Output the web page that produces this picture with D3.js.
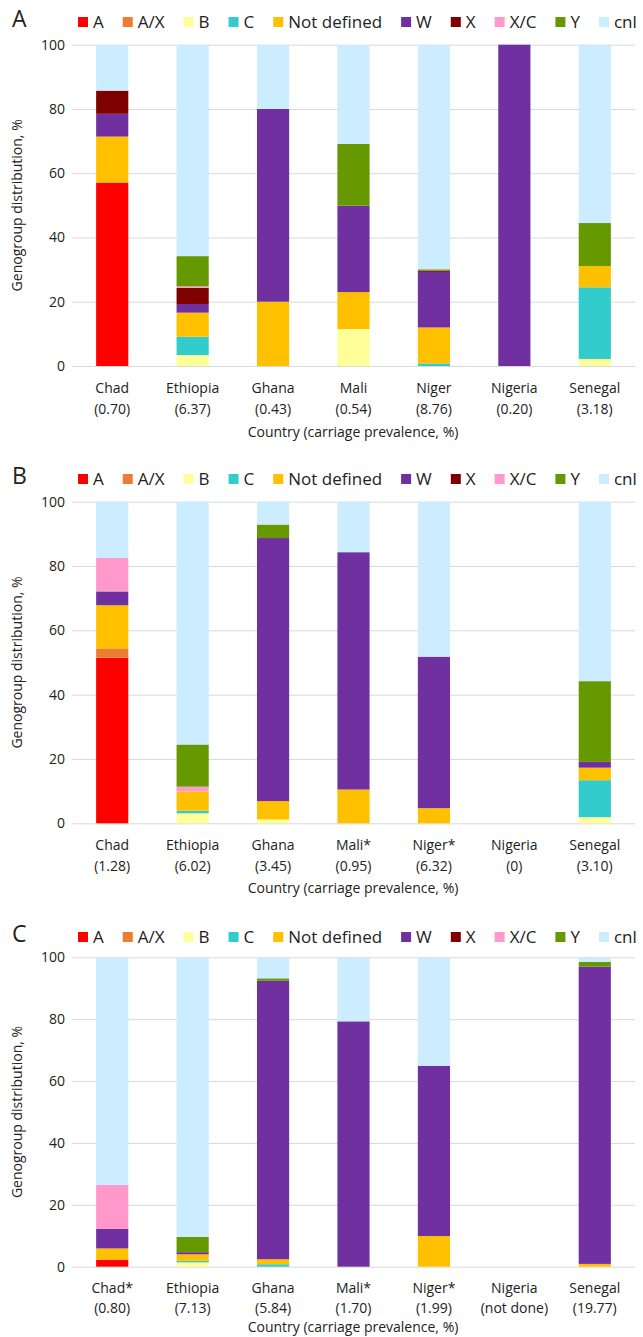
<!DOCTYPE html>
<html><head><meta charset="utf-8">
<script src="https://cdn.jsdelivr.net/npm/d3@7"></script>
<style>body{margin:0;background:#fff}svg{display:block}text{font-family:"Open Sans",sans-serif;fill:#222}</style>
</head><body>
<svg id="chart" width="643" height="1337"></svg>
<script>
const genogroups = ["A","A/X","B","C","Not defined","W","X","X/C","Y","cnl"];
const colors = ["#FF0000","#ED7D31","#FFFF99","#33CCCC","#FFC000","#7030A0","#7F0000","#FF99CC","#669900","#CCECFF"];
const yTicks = [0,20,40,60,80,100];

const namesA = ["Chad","Ethiopia","Ghana","Mali","Niger","Nigeria","Senegal"];
const prevA  = ["(0.70)","(6.37)","(0.43)","(0.54)","(8.76)","(0.20)","(3.18)"];
const namesB = ["Chad","Ethiopia","Ghana","Mali*","Niger*","Nigeria","Senegal"];
const prevB  = ["(1.28)","(6.02)","(3.45)","(0.95)","(6.32)","(0)","(3.10)"];
const namesC = ["Chad*","Ethiopia","Ghana","Mali*","Niger*","Nigeria","Senegal"];
const prevC  = ["(0.80)","(7.13)","(5.84)","(1.70)","(1.99)","(not done)","(19.77)"];

// values per genogroup, countries in order Chad..Senegal
const valuesA = {
  "A":[57.1,0,0,0,0,0,0], "A/X":[0,0,0,0,0,0,0], "B":[0,3.4,0,11.5,0,0,2.2],
  "C":[0,5.7,0,0,0.8,0,22.3], "Not defined":[14.3,7.5,20,11.5,11.2,0,6.6],
  "W":[7.1,2.7,60,26.9,17.3,100,0], "X":[7.2,5.0,0,0,0.4,0,0], "X/C":[0,0.5,0,0,0,0,0],
  "Y":[0,9.4,0,19.2,0.4,0,13.4], "cnl":[14.3,65.8,20,30.8,69.9,0,55.5]
};
const valuesB = {
  "A":[51.5,0,0,0,0,0,0], "A/X":[2.9,0,0,0,0,0,0], "B":[0,3.1,1.2,0,0,0,1.9],
  "C":[0,0.8,0,0,0,0,11.5], "Not defined":[13.4,6.0,5.7,10.5,4.7,0,3.9],
  "W":[4.3,0,81.8,73.8,47.1,0,1.8], "X":[0,0,0,0,0,0,0], "X/C":[10.4,1.5,0,0,0,0,0],
  "Y":[0,13.1,4.2,0,0,0,25.1], "cnl":[17.5,75.5,7.1,15.7,48.2,0,55.8]
};
const valuesC = {
  "A":[2.2,0,0,0,0,0,0], "A/X":[0,0,0,0,0,0,0], "B":[0,1.4,0,0,0,0,0],
  "C":[0,0.5,0.8,0,0,0,0], "Not defined":[3.7,2.1,1.6,0,9.9,0,0.9],
  "W":[6.3,0.7,90.0,79.3,55.0,0,96.1], "X":[0,0,0,0,0,0,0], "X/C":[14.2,0,0,0,0,0,0],
  "Y":[0,4.9,0.8,0,0,0,1.5], "cnl":[73.6,90.4,6.8,20.7,35.1,0,1.5]
};

const svg = d3.select("#chart");
const color = d3.scaleOrdinal().domain(genogroups).range(colors);

function panel(letter, values, names, prevs, top, bottom, legendY, lab) {
  const g = svg.append("g");
  const idx = d3.range(names.length);
  const x = d3.scaleBand().domain(idx).range([72,635]).paddingInner(0.6).paddingOuter(0.3);
  const y = d3.scaleLinear().domain([0,100]).range([bottom, top]);

  const ax = g.append("g").attr("transform","translate(72,0)")
    .call(d3.axisLeft(y).tickValues(yTicks).tickSize(-563).tickPadding(7));
  ax.select(".domain").remove();
  ax.selectAll(".tick line").attr("stroke","#d9d9d9");
  ax.selectAll(".tick text").style("font-size","14px").attr("fill","#222");

  const rows = idx.map(i => { const r = {i}; genogroups.forEach(k => r[k] = values[k][i]); return r; });
  const stack = d3.stack().keys(genogroups)(rows);
  g.append("g").selectAll("g").data(stack).join("g").attr("fill", d => color(d.key))
    .selectAll("rect").data(d => d.filter(s => s[1]-s[0] > 0)).join("rect")
    .attr("x", d => x(d.data.i)).attr("width", x.bandwidth())
    .attr("y", d => y(d[1])).attr("height", d => y(d[0]) - y(d[1]));

  idx.forEach(i => {
    const cx = x(i) + x.bandwidth()/2;
    g.append("text").attr("x",cx).attr("y",bottom+lab[0]).attr("text-anchor","middle").style("font-size","14px").text(names[i]);
    g.append("text").attr("x",cx).attr("y",bottom+lab[1]).attr("text-anchor","middle").style("font-size","14px").text(prevs[i]);
  });
  g.append("text").attr("x",353).attr("y",bottom+lab[2]).attr("text-anchor","middle").style("font-size","14px")
    .text("Country (carriage prevalence, %)");
  g.append("text").attr("transform",`translate(22,${(top+bottom)/2}) rotate(-90)`).attr("text-anchor","middle")
    .style("font-size","14px").text("Genogroup distribution, %");

  g.append("text").attr("x",12).attr("y",legendY+6).style("font-size","23px").text(letter);

  const lg = g.append("g");
  let lx = 78;
  genogroups.forEach(k => {
    lg.append("rect").attr("x",lx).attr("y",legendY-4).attr("width",10).attr("height",10).attr("fill",color(k));
    const t = lg.append("text").attr("x",lx+15).attr("y",legendY+7).style("font-size","17px").text(k);
    lx += 15 + t.node().getComputedTextLength() + 19;
  });
}

panel("A", valuesA, namesA, prevA, 44.7, 366, 21, [27,48,71]);
panel("B", valuesB, namesB, prevB, 501.7, 823.3, 478, [27,48,70]);
panel("C", valuesC, namesC, prevC, 957.3, 1266.7, 936, [26,46,65.5]);
</script>
</body></html>
